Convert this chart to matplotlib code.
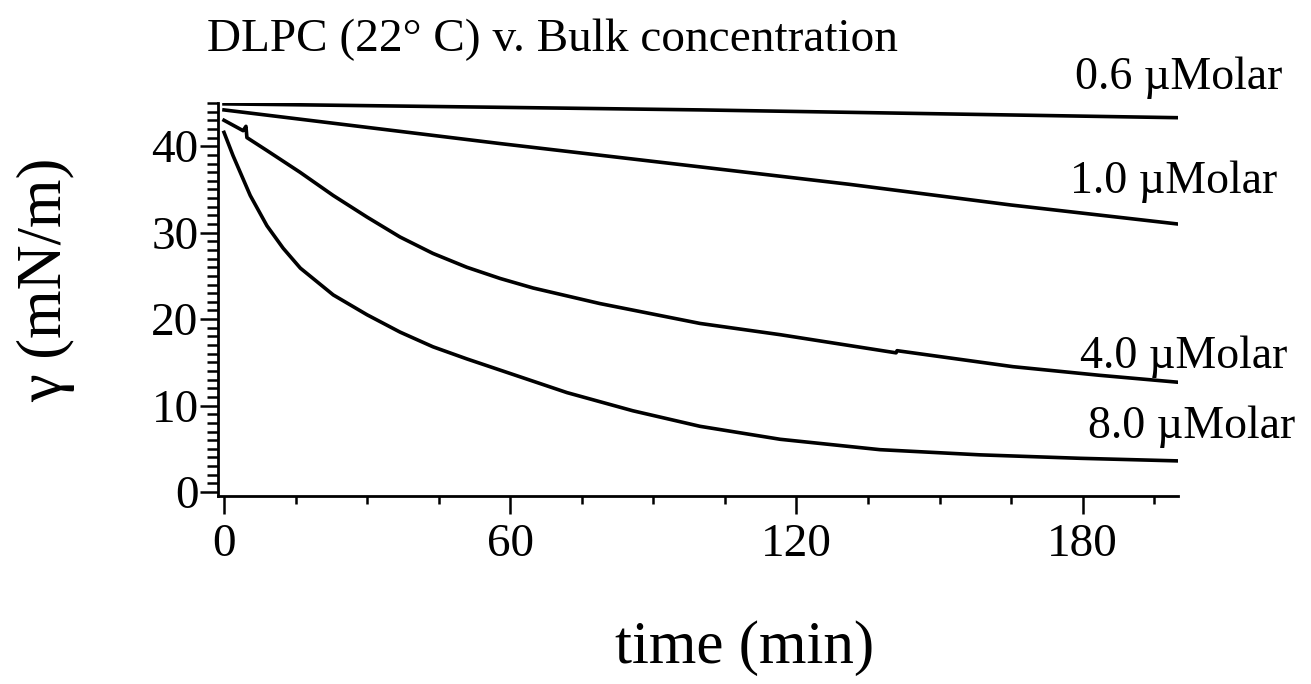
import matplotlib.pyplot as plt
from matplotlib.ticker import MultipleLocator

plt.rcParams['font.family'] = ['Liberation Serif', 'DejaVu Serif']

# curves (time in min, surface tension in mN/m)
t_06 = [0, 58, 100, 200]
g_06 = [44.9, 44.5, 44.2, 43.3]

t_10 = [0, 58, 100, 131, 165, 200]
g_10 = [44.2, 40.3, 37.6, 35.6, 33.2, 31.0]

t_40 = [0, 4.0, 4.6, 4.8, 9.0, 15.9, 22.9, 30.0, 36.9, 43.8, 50.9, 57.9,
        64.8, 78.8, 99.8, 116.6, 140.9, 141.1, 165.4, 183.6, 200.0]
g_40 = [43.0, 41.8, 42.3, 41.0, 39.5, 37.0, 34.3, 31.8, 29.5, 27.6, 26.0,
        24.7, 23.6, 21.8, 19.5, 18.2, 16.1, 16.35, 14.5, 13.5, 12.7]

t_80 = [0, 1.9, 5.5, 9.0, 12.4, 16.0, 22.9, 30.0, 36.9, 43.8, 50.9, 57.9,
        71.9, 85.7, 99.8, 116.6, 137.5, 158.5, 179.5, 200.0]
g_80 = [41.6, 38.9, 34.3, 30.8, 28.2, 25.9, 22.8, 20.5, 18.5, 16.8, 15.4,
        14.1, 11.5, 9.4, 7.6, 6.1, 4.9, 4.3, 3.9, 3.6]

labels = ['0.6 \u00b5Molar', '1.0 \u00b5Molar', '4.0 \u00b5Molar', '8.0 \u00b5Molar']
label_pos = [(1075, 78), (1070, 182), (1080, 357), (1088, 427)]

W, H = 1311, 684
fig = plt.figure(figsize=(W / 100, H / 100), dpi=100)
ax = fig.add_axes([218 / W, 1 - 496 / H, (1178 - 218) / W, (496 - 103) / H])

for t, g in [(t_06, g_06), (t_10, g_10), (t_40, g_40), (t_80, g_80)]:
    ax.plot(t, g, color='black', lw=2.6, solid_joinstyle='round')

ax.set_xlim(-1.26, 200.0)
ax.set_ylim(-0.46, 45.0)

ax.spines['top'].set_visible(False)
ax.spines['right'].set_visible(False)
for s in ['left', 'bottom']:
    ax.spines[s].set_linewidth(2)

ax.xaxis.set_major_locator(MultipleLocator(60))
ax.xaxis.set_minor_locator(MultipleLocator(15))
ax.yaxis.set_major_locator(MultipleLocator(10))
ax.yaxis.set_minor_locator(MultipleLocator(1))
ax.tick_params(axis='x', which='major', length=13, width=1.8, labelsize=34, pad=7)
ax.tick_params(axis='x', which='minor', length=6, width=1.8)
ax.tick_params(axis='y', which='major', length=13, width=1.8, labelsize=34, pad=1)
ax.tick_params(axis='y', which='minor', length=8, width=1.8)

fig.text(207 / W, 1 - 40 / H, 'DLPC (22\u00b0 C) v. Bulk concentration',
         fontsize=34, ha='left', va='center')
fig.text(745 / W, 1 - 648 / H, 'time (min)', fontsize=44, ha='center', va='center')
fig.text(46 / W, 1 - 280 / H, '\u03b3 (mN/m)', fontsize=45, ha='center',
         va='center', rotation=90)

for lab, (x, y) in zip(labels, label_pos):
    fig.text(x / W, 1 - y / H, lab, fontsize=33, ha='left', va='center')

fig.savefig('out.png', dpi=100)
